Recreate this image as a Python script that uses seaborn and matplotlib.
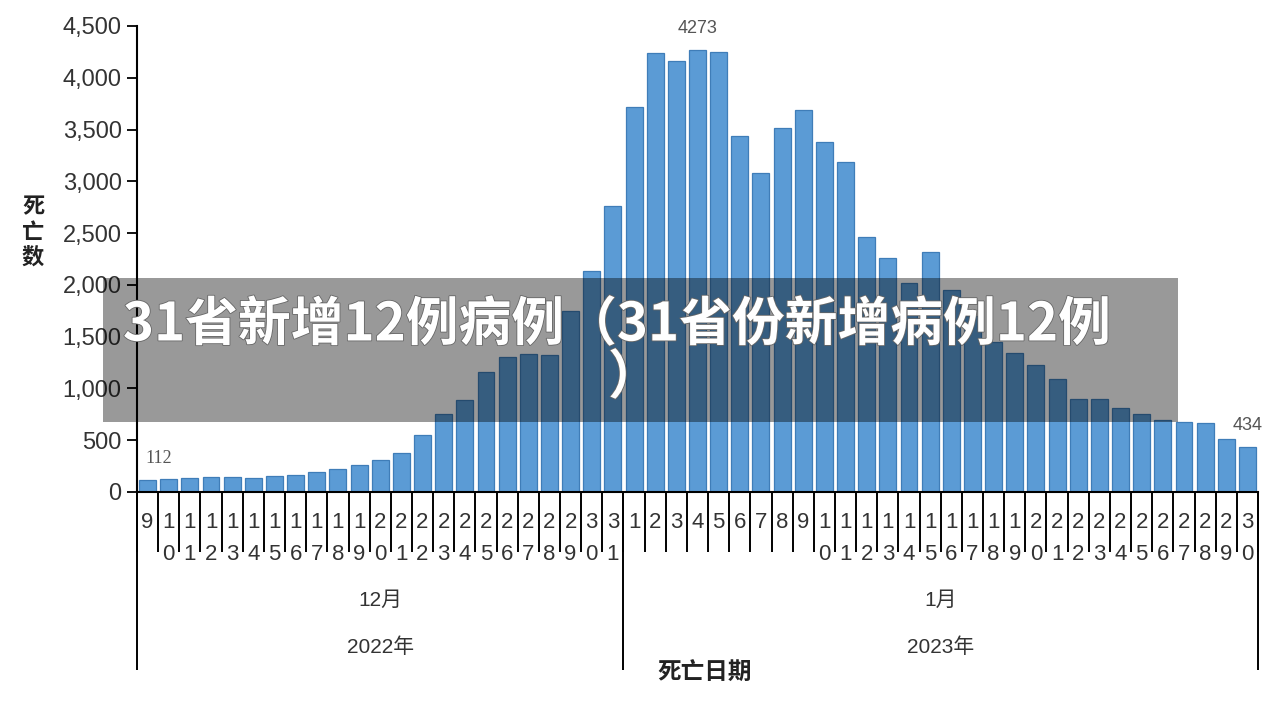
import matplotlib
matplotlib.use("Agg")
import matplotlib.pyplot as plt
import matplotlib.patheffects as pe
from matplotlib import font_manager as fm
from matplotlib.patches import Rectangle
import seaborn as sns
import pandas as pd
import numpy as np

# ---------------- data ----------------
months = ["12月", "1月"]
years = ["2022年", "2023年"]
days_dec = list(range(9, 32))
days_jan = list(range(1, 31))
deaths_dec = [112, 122, 135, 144, 144, 135, 157, 167, 189, 225, 260, 305, 379,
              550, 752, 888, 1158, 1306, 1328, 1319, 1750, 2136, 2757]
deaths_jan = [3716, 4237, 4160, 4273, 4250, 3442, 3085, 3513, 3693, 3375, 3182,
              2461, 2258, 2020, 2322, 1950, 1700, 1448, 1338, 1229, 1093, 900,
              896, 810, 752, 694, 675, 662, 514, 434]
yticks = [0, 500, 1000, 1500, 2000, 2500, 3000, 3500, 4000, 4500]
y_title = "死亡数"
x_title = "死亡日期"
banner_line1 = "31省新增12例病例（31省份新增病例12例"
banner_line2 = "）"

# ---------------- fonts ----------------
def has_font(name):
    try:
        fm.findfont(fm.FontProperties(family=name), fallback_to_default=False)
        return True
    except Exception:
        return False

narrow = "Liberation Sans Narrow" if has_font("Liberation Sans Narrow") else None

sns.set_theme(style="white")
plt.rcParams["font.family"] = ["Liberation Sans", "Noto Sans CJK SC", "DejaVu Sans"]
CJK = ["Noto Sans CJK SC", "DejaVu Sans"]

W, H = 1282, 702
fig = plt.figure(figsize=(W / 100, H / 100), dpi=100)
fig.patch.set_facecolor("white")
L, R, T, B = 137, 1258, 26, 492
ax = fig.add_axes([L / W, 1 - B / H, (R - L) / W, (B - T) / H])

all_days = days_dec + days_jan
values = deaths_dec + deaths_jan
df = pd.DataFrame({"idx": list(range(len(values))), "deaths": values})

sns.barplot(data=df, x="idx", y="deaths", color="#5B9BD5", saturation=1,
            edgecolor="#3F7DB8", linewidth=0.9, width=0.8, ax=ax)

n = len(values)
ax.set_xlim(-0.5, n - 0.5)
ax.set_ylim(0, 4500)
ax.set_xlabel("")
ax.set_ylabel("")
ax.set_xticks([])
ax.set_yticks(yticks)
ax.set_yticklabels([f"{v:,}" for v in yticks])
ax.tick_params(axis="y", left=True, direction="out", length=7.5, width=1.3,
               color="black", labelsize=17, pad=3.5, labelcolor="#333333")
for s in ["top", "right"]:
    ax.spines[s].set_visible(False)
for s in ["left", "bottom"]:
    ax.spines[s].set_color("black")
    ax.spines[s].set_linewidth(1.5)
ax.set_facecolor("white")

# ---------------- multi-level category axis ----------------
trans = ax.get_xaxis_transform()
ph = B - T
def fy(py):
    return (B - py) / ph

for b in np.arange(n + 1) - 0.5:
    ax.plot([b, b], [0, fy(552)], transform=trans, color="black", lw=1.4,
            clip_on=False, solid_capstyle="butt")
month_bounds = [-0.5, len(days_dec) - 0.5, n - 0.5]
for b in month_bounds:
    ax.plot([b, b], [0, fy(670)], transform=trans, color="black", lw=1.4,
            clip_on=False, solid_capstyle="butt")

day_kw = dict(transform=trans, ha="center", va="center", color="#333333",
              clip_on=False)
if narrow:
    day_kw.update(family=narrow, fontsize=17)
else:
    day_kw.update(fontsize=16)
for i, d in enumerate(all_days):
    s = str(d)
    ax.text(i, fy(523), s[0], **day_kw)
    if len(s) > 1:
        ax.text(i, fy(555), s[1], **day_kw)

groups = [(0, len(days_dec)), (len(days_dec), n)]
for (a, b), m, yv in zip(groups, months, years):
    cx = (a - 0.5 + b - 0.5) / 2
    ax.text(cx, fy(600), m, transform=trans, ha="center", va="center",
            fontsize=15, color="#333333", clip_on=False)
    ax.text(cx, fy(647), yv, transform=trans, ha="center", va="center",
            fontsize=15, color="#333333", clip_on=False)

# ---------------- data labels ----------------
label_idx = [0, int(np.argmax(values)), n - 1]
for k, i in enumerate(label_idx):
    fam = "Liberation Serif" if k == 0 else "Liberation Sans"
    dx = 11 if k == 0 else 0
    ax.annotate(f"{values[i]}", xy=(i, values[i]), xytext=(dx, 13),
                textcoords="offset pixels", ha="center", va="bottom",
                fontsize=13, color="#555555", family=fam)

# ---------------- titles ----------------
fig.text(705 / W, 1 - 673 / H, x_title, ha="center", va="center",
         fontsize=17, fontweight="bold", family=CJK, color="#222222")
fig.text(33 / W, 1 - 232 / H, "\n".join(y_title), ha="center", va="center",
         fontsize=16, fontweight="bold", family=CJK, color="#222222",
         linespacing=1.1)

# ---------------- overlay banner ----------------
fig.patches.append(Rectangle((103 / W, 1 - 422 / H), (1178 - 103) / W,
                             (422 - 278) / H, transform=fig.transFigure,
                             facecolor="black", alpha=0.4, edgecolor="none",
                             zorder=10))
stroke = [pe.withStroke(linewidth=1.2, foreground="#666666")]
fig.text(617 / W, 1 - 325 / H, banner_line1, ha="center", va="center",
         fontsize=38, fontweight="heavy", family=CJK, color="white", zorder=11,
         path_effects=stroke)
fig.text(608 / W, 1 - 378 / H, banner_line2, ha="left", va="center",
         fontsize=38, fontweight="heavy", family=CJK, color="white", zorder=11,
         path_effects=stroke)

fig.savefig("out.png", dpi=100, facecolor="white")
